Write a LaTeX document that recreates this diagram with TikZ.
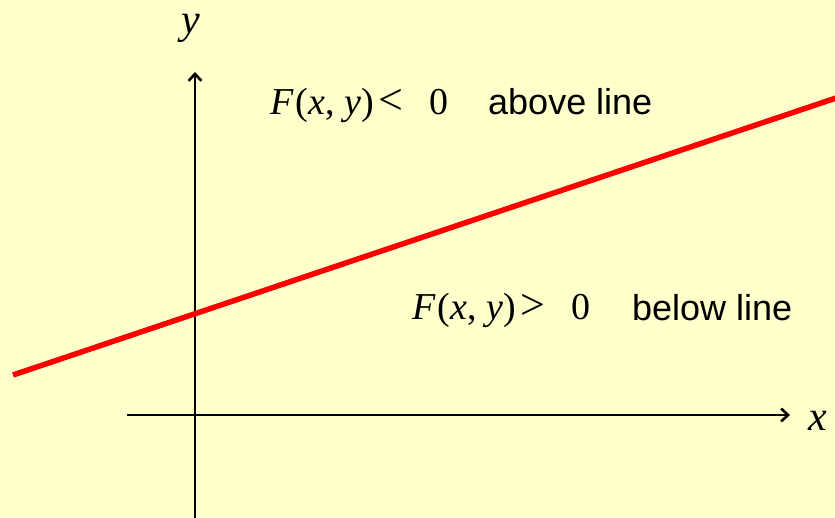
\documentclass[tikz,border=0pt]{standalone}
\usepackage{fontspec}
\setmainfont{Liberation Serif}
\setsansfont{Liberation Sans}
\usetikzlibrary{arrows.meta}
\definecolor{bg}{HTML}{FFFFCC}
\definecolor{lred}{HTML}{FF0000}
\tikzset{
  axis/.style={line width=2.6pt,-{Straight Barb[length=7pt,width=13pt,line width=2.6pt]}},
  axislbl/.style={font=\fontsize{42}{44}\selectfont\itshape,inner sep=0pt,anchor=base},
  mathtxt/.style={font=\fontsize{38}{40}\selectfont,inner sep=0pt,anchor=base west},
  plaintxt/.style={font=\sffamily\fontsize{36}{40}\selectfont,inner sep=0pt,anchor=base west},
}
\newcommand{\myrel}[1]{\textit{F}\hspace{2pt}(\textit{x}, \textit{y}\/)\hspace{5pt}{\fontsize{44}{44}\selectfont #1}\hspace{26pt}0}
\begin{document}
\begin{tikzpicture}[x=1pt,y=-1pt]
\fill[bg] (0,0) rectangle (835,518);
\useasboundingbox (0,0) rectangle (835,518);
\coordinate (ybot) at (195,518);
\coordinate (ytop) at (195,72);
\coordinate (xleft) at (127,415);
\coordinate (xright) at (790,415);
\coordinate (lstart) at (13,375);
\coordinate (lend) at (842,96);
\draw[axis] (ybot) -- (ytop);
\draw[axis] (xleft) -- (xright);
\draw[lred,line width=5.5pt] (lstart) -- (lend);
\node[axislbl] (ylab) at (191,34) {y};
\node[axislbl] (xlab) at (818,430) {x};
\node[mathtxt] (abovemath) at (270,115) {\myrel{<}};
\node[plaintxt] (abovetxt) at (488,115) {above line};
\node[mathtxt] (belowmath) at (412,320) {\myrel{>}};
\node[plaintxt] (belowtxt) at (632,321) {below line};
\end{tikzpicture}
\end{document}
